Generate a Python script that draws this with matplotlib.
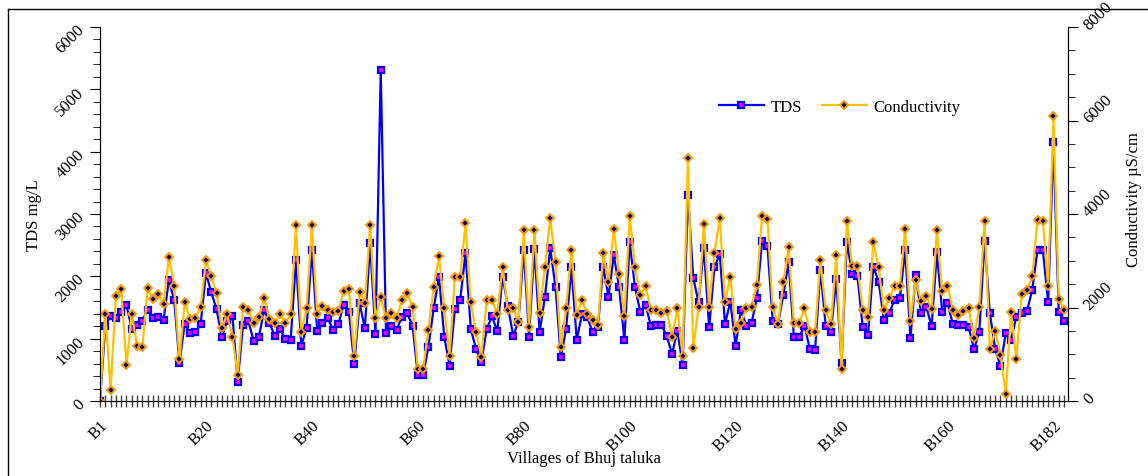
import matplotlib
matplotlib.use("Agg")
import matplotlib.pyplot as plt
from matplotlib.lines import Line2D
from matplotlib.ticker import MultipleLocator

# DATA
tds = [0, 1203, 1369, 1326, 1423, 1540, 1155, 1219, 1289, 1465, 1337, 1353, 1300, 1941,
       1620, 615, 1241, 1091, 1102, 1235, 2054, 1743, 1476, 1021,
       1289, 1369, 310, 1219, 1278, 968, 1032, 1460, 1246, 1048, 1155, 995, 984, 2268,
       888, 1166, 2428, 1128, 1246, 1326, 1144, 1235, 1540, 1423,
       594, 1572, 1166, 2530, 1070, 5310, 1086, 1209, 1139, 1353, 1407, 1209, 417, 417,
       872, 1487, 1995, 1021, 567, 1476, 1620, 2369, 1155,
       834, 620, 1155, 1358, 1118, 1995, 1519, 1048, 1273, 2423, 1032, 2439, 1102, 1674,
       2449, 1824, 701, 1155, 2144, 984, 1396, 1342, 1102, 1182,
       2155, 1674, 2342, 1824, 979, 2546, 1824, 1433, 1540, 1209, 1219, 1219, 1038, 754,
       1128, 578, 3310, 1973, 1583, 2455, 1182, 2144, 2358, 1235,
       1594, 888, 1460, 1209, 1246, 1647, 2572, 2492, 1289, 1235, 1701, 2225, 1032, 1021,
       1209, 834, 818, 2107, 1209, 1112, 1957, 604, 2556,
       2038, 2000, 1182, 1064, 2155, 1915, 1300, 1412, 1620, 1647, 2423, 1011, 2027, 1412,
       1513, 1198, 2385, 1433, 1572, 1235, 1225, 1225, 1182, 834,
       1102, 2572, 1407, 834, 567, 1086, 984, 1353, 1407, 1439, 1786, 2428, 2428, 1583,
       4161, 1433, 1289]

conductivity = [0, 1868, 242, 2253, 2396, 770, 1868, 1169, 1148, 2410, 2182, 2289, 2068,
                3080, 2467, 891, 2118, 1754, 1783, 2004, 3009, 2667, 2310, 1554,
                1861, 1376, 556, 2018, 1954, 1668, 1790, 2203, 1754, 1668, 1854, 1668, 1861,
                3765, 1469, 1982, 3765, 1861, 2039, 1954, 1897, 1932, 2360, 2396,
                970, 2339, 2096, 3765, 1768, 2217, 1768, 1875, 1783, 2160, 2303, 2018, 684,
                684, 1526, 2446, 3094, 1982, 970, 2659, 2659, 3800, 2110,
                1469, 948, 2160, 2160, 1861, 2873, 1946, 1982, 1697, 3658, 1576, 3658, 1882,
                2873, 3907, 2966, 1148, 1982, 3237, 1847, 2160, 1861, 1733, 1626,
                3159, 2553, 3679, 2717, 1825, 3964, 2859, 2267, 2467, 1954, 1954, 1875, 1932,
                1376, 1982, 970, 5198, 1127, 2004, 3786, 2004, 3159, 3907, 2110,
                2659, 1540, 1668, 1982, 2018, 2481, 3964, 3893, 2004, 1647, 2538, 3287, 1661,
                1661, 1982, 1469, 1469, 3023, 1954, 1647, 3123, 684, 3857,
                2895, 2881, 1954, 1804, 3394, 2859, 1946, 2196, 2467, 2467, 3679, 1718, 2588,
                2146, 2253, 1968, 3658, 2346, 2467, 1954, 1840, 1932, 1989, 1340,
                2004, 3857, 1112, 1490, 991, 150, 1897, 898, 2289, 2381, 2667, 3879, 3857,
                2467, 6089, 2182, 1946]

tick_labels = ["B1", "B20", "B40", "B60", "B80", "B100", "B120", "B140", "B160", "B182"]
LABEL_STEP = 20


def main():
    plt.rcParams["font.family"] = ["Liberation Serif", "DejaVu Serif"]
    plt.rcParams["font.size"] = 12

    fig = plt.figure(figsize=(11.48, 4.77), dpi=100)
    ax1 = fig.add_axes([100 / 1148, 1 - 402 / 477, 968 / 1148, 374 / 477])
    ax2 = ax1.twinx()

    x = list(range(len(tds)))

    ax1.plot(x, tds, color="#0000FF", lw=1.6, marker="s", ms=5,
             mfc="#FF00FF", mec="#0000FF", mew=1.6, label="TDS")
    ax2.plot(x, conductivity, color="#FFC000", lw=1.6, marker="D", ms=3.6,
             mfc="#000066", mec="#FF9900", mew=1.4, label="Conductivity")

    ax1.set_xlim(0, len(tds) - 0.25)
    ax1.set_ylim(0, 6000)
    ax2.set_ylim(0, 8000)

    # x ticks at every village, labels every 20th
    ax1.set_xticks(x)
    labels = [""] * len(x)
    for k, name in enumerate(tick_labels):
        labels[k * LABEL_STEP] = name
    ax1.set_xticklabels(labels)
    ax1.tick_params(axis="x", direction="inout", length=9, width=1,
                    color="#444444", pad=7)
    for lab in ax1.get_xticklabels():
        lab.set_rotation(45)
        lab.set_ha("right")
        lab.set_va("top")
        lab.set_rotation_mode("anchor")

    ax1.yaxis.set_major_locator(MultipleLocator(1000))
    ax1.yaxis.set_minor_locator(MultipleLocator(200))
    ax1.tick_params(axis="y", which="major", direction="out", length=7, pad=6)
    ax1.tick_params(axis="y", which="minor", direction="out", length=5)
    for lab in ax1.get_yticklabels():
        lab.set_rotation(45)
        lab.set_ha("right")
        lab.set_va("center")
        lab.set_rotation_mode("anchor")

    ax2.yaxis.set_major_locator(MultipleLocator(2000))
    ax2.yaxis.set_minor_locator(MultipleLocator(500))
    ax2.tick_params(axis="y", which="major", direction="out", length=7, pad=6)
    ax2.tick_params(axis="y", which="minor", direction="out", length=5)
    for lab in ax2.get_yticklabels():
        lab.set_rotation(45)
        lab.set_ha("left")
        lab.set_va("center")
        lab.set_rotation_mode("anchor")

    for ax in (ax1, ax2):
        ax.spines["top"].set_visible(False)
    ax1.spines["bottom"].set_color("#444444")

    ax1.set_ylabel("TDS mg/L", fontsize=12)
    ax1.yaxis.set_label_coords(-58 / 968, 0.5)
    ax2.set_ylabel("Conductivity \u00b5S/cm", fontsize=12)
    ax2.yaxis.set_label_coords(1 + 58 / 968, 0.54)
    ax1.set_xlabel("Villages of Bhuj taluka", fontsize=12)
    ax1.xaxis.set_label_coords(0.5, -49 / 374)

    handles = [
        Line2D([0], [0], color="#0000FF", lw=1.6, marker="s", ms=5,
               mfc="#FF00FF", mec="#0000FF", mew=1.6),
        Line2D([0], [0], color="#FFC000", lw=1.6, marker="D", ms=3.6,
               mfc="#000066", mec="#FF9900", mew=1.4),
    ]
    ax2.legend(handles, ["TDS", "Conductivity"], loc="center",
               bbox_to_anchor=(0.764, 0.786), ncol=2, frameon=False,
               handlelength=2.7, handletextpad=0.4, columnspacing=1.2,
               fontsize=12)

    # outer chart border (left and top only visible)
    fig.add_artist(Line2D([8 / 1148, 8 / 1148], [0, 1 - 10 / 477],
                          transform=fig.transFigure, color="black", lw=1))
    fig.add_artist(Line2D([8 / 1148, 1], [1 - 10 / 477, 1 - 10 / 477],
                          transform=fig.transFigure, color="black", lw=1))

    fig.savefig("out.png", dpi=100)


if __name__ == "__main__":
    main()
